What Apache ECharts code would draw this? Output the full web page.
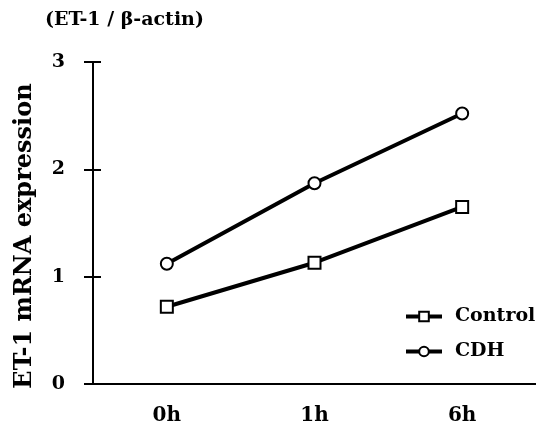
<!DOCTYPE html>
<html>
<head>
<meta charset="utf-8">
<script src="https://cdn.jsdelivr.net/npm/echarts@6/dist/echarts.min.js"></script>
<style>html,body{margin:0;padding:0;background:#fff}#c{width:536px;height:431px}</style>
</head>
<body>
<div id="c"></div>
<script>
var categories = ['0h', '1h', '6h'];
var controlValues = [0.72, 1.13, 1.65];
var cdhValues = [1.12, 1.87, 2.52];
var yTicks = [0, 1, 2, 3];
var yAxisName = 'ET-1 mRNA expression';
var titleText = '(ET-1 / β-actin)';

var font = 'DejaVu Serif';
var chart = echarts.init(document.getElementById('c'), null, {renderer: 'canvas'});
var seriesStyle = function (name, data, symbol) {
  return {
    name: name, type: 'line', data: data, symbol: symbol, symbolSize: 12,
    lineStyle: {color: '#000', width: 4},
    itemStyle: {color: '#fff', borderColor: '#000', borderWidth: 2},
    emphasis: {disabled: true}, z: 3
  };
};
chart.setOption({
  animation: false,
  title: {
    text: titleText, left: 40, top: 6,
    textStyle: {fontFamily: font, fontWeight: 'bold', fontSize: 19, color: '#000'}
  },
  graphic: [{
    type: 'text', x: 25, y: 236, rotation: Math.PI / 2,
    style: {text: yAxisName, fontFamily: font, fontWeight: 'bold', fontSize: 24, fill: '#000',
      align: 'center', verticalAlign: 'middle'}
  }],
  legend: {
    orient: 'vertical', left: 399, top: 302, itemWidth: 36, itemHeight: 12, itemGap: 16,
    data: ['Control', 'CDH'],
    lineStyle: {color: '#000', width: 4},
    itemStyle: {color: '#fff', borderColor: '#000', borderWidth: 2},
    textStyle: {fontFamily: font, fontWeight: 'bold', fontSize: 19, color: '#000', padding: [0, 0, 0, 8]}
  },
  grid: {left: 93, top: 62, width: 448, height: 322, containLabel: false},
  xAxis: {
    type: 'category', data: categories, boundaryGap: true,
    axisLine: {lineStyle: {color: '#000', width: 2}},
    axisTick: {show: false},
    axisLabel: {fontFamily: font, fontWeight: 'bold', fontSize: 20, color: '#000', margin: 22}
  },
  yAxis: [{
    type: 'value', min: yTicks[0], max: yTicks[yTicks.length - 1], interval: 1,
    axisLine: {show: true, lineStyle: {color: '#000', width: 2}},
    axisTick: {show: true, length: 9, lineStyle: {color: '#000', width: 2}},
    axisLabel: {fontFamily: font, fontWeight: 'bold', fontSize: 19, color: '#000', margin: 28},
    splitLine: {show: false}
  }, {
    type: 'value', min: yTicks[0], max: yTicks[yTicks.length - 1], interval: 1, position: 'left',
    axisLine: {show: false},
    axisTick: {show: true, inside: true, length: 8, lineStyle: {color: '#000', width: 2}},
    axisLabel: {show: false}, splitLine: {show: false}
  }],
  series: [
    seriesStyle('Control', controlValues, 'rect'),
    seriesStyle('CDH', cdhValues, 'circle')
  ]
});
</script>
</body>
</html>
